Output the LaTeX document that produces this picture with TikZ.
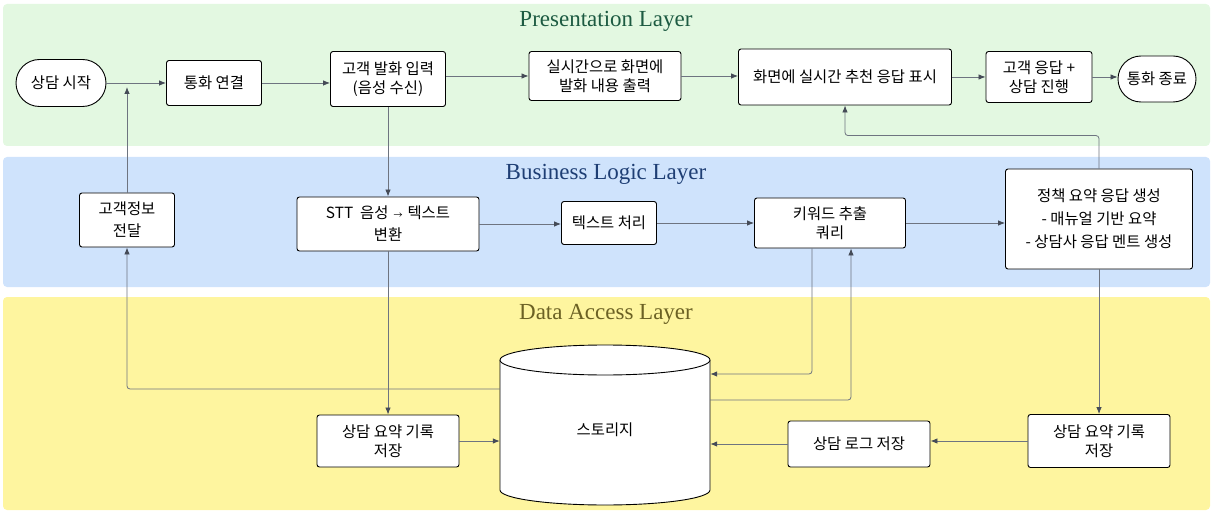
\documentclass[tikz,border=0pt]{standalone}
\usepackage{fontspec}
\setmainfont{Liberation Serif}
\newfontfamily\kr{Noto Sans CJK KR}
\usetikzlibrary{shapes.misc,arrows.meta}
\definecolor{presbg}{HTML}{E3F8E1}
\definecolor{busbg}{HTML}{CFE3FC}
\definecolor{databg}{HTML}{FEF59F}
\definecolor{prestitle}{HTML}{1D5B42}
\definecolor{bustitle}{HTML}{1E3E74}
\definecolor{datatitle}{HTML}{6B6124}
\definecolor{wire}{HTML}{6E7480}
\definecolor{tipc}{HTML}{454B57}
\tikzset{
  layer/.style={fill=#1, draw=none, rounded corners=4pt},
  ltitle/.style={font=\fontsize{23}{26}\selectfont, text=#1},
  box/.style={draw=black, line width=0.9pt, fill=white, rounded corners=2.5pt,
    align=center, inner sep=2pt, font=\kr\fontsize{15.4}{19}\selectfont},
  pill/.style={draw=black, line width=0.9pt, fill=white, rounded rectangle,
    align=center, inner sep=2pt, font=\kr\fontsize{15.4}{19}\selectfont},
  arr/.style={draw=wire, line width=0.8pt, -{Latex[length=7pt,width=5.5pt,color=tipc]}, rounded corners=3pt},
}
\begin{document}
\begin{tikzpicture}[x=1pt,y=-1pt]
\useasboundingbox (0,0) rectangle (1212,513);
% layers
\fill[layer=presbg] (3,4) rectangle (1210,146);
\fill[layer=busbg] (3,157) rectangle (1210,287);
\fill[layer=databg] (3,297) rectangle (1210,510);
\node[ltitle=prestitle] (tp) at (606,21) {Presentation Layer};
\node[ltitle=bustitle] (tb) at (606,174) {Business Logic Layer};
\node[ltitle=datatitle] (td) at (606,314) {Data Access Layer};
% presentation
\node[pill, minimum width=94pt, minimum height=47pt] (start) at (61,83) {상담 시작};
\node[box, minimum width=95pt, minimum height=45pt] (call) at (214,83) {통화 연결};
\node[box, minimum width=115pt, minimum height=55pt] (input) at (388,79) {고객 발화 입력\\(음성 수신)};
\node[box, minimum width=152pt, minimum height=49pt] (rt) at (605,76) {실시간으로 화면에\\발화 내용 출력};
\node[box, minimum width=213pt, minimum height=56pt] (disp) at (845,77) {화면에 실시간 추천 응답 표시};
\node[box, minimum width=106pt, minimum height=51pt] (reply) at (1039,77) {고객 응답 +\\상담 진행};
\node[pill, minimum width=82pt, minimum height=46pt] (end) at (1157,79) {통화 종료};
% business
\node[box, minimum width=95pt, minimum height=54pt, font=\kr\fontsize{15.4}{22}\selectfont] (info) at (127,220) {고객정보\\전달};
\node[box, minimum width=182pt, minimum height=54pt, font=\kr\fontsize{15.4}{22}\selectfont] (stt) at (388,224) {STT\ \ 음성\hspace{5pt}{\fontsize{9}{10}\selectfont →}\hspace{5pt}텍스트\\변환};
\node[box, minimum width=95pt, minimum height=43pt] (txt) at (609,223) {텍스트 처리};
\node[box, minimum width=151pt, minimum height=50pt] (kw) at (830,223) {키워드 추출\\쿼리};
\node[box, minimum width=187pt, minimum height=100pt, font=\kr\fontsize{15.4}{23}\selectfont] (pol) at (1099,219) {정책 요약 응답 생성\\- 매뉴얼 기반 요약\\- 상담사 응답 멘트 생성};
% data
\draw[line width=0.9pt, fill=white] (500,360) -- (500,490) arc[start angle=180, end angle=0, x radius=105, y radius=15] -- (710,360);
\draw[line width=0.9pt, fill=white] (605,360) ellipse [x radius=105, y radius=15];
\node[inner sep=0pt, minimum width=210pt, minimum height=150pt, font=\kr\fontsize{15.4}{19}\selectfont] (db) at (605,430) {스토리지};
\node[box, minimum width=142pt, minimum height=52pt] (suml) at (388,441) {상담 요약 기록\\저장};
\node[box, minimum width=142pt, minimum height=46pt] (log) at (859,444) {상담 로그 저장};
\node[box, minimum width=142pt, minimum height=53pt] (sumr) at (1099,441) {상담 요약 기록\\저장};
% connectors
\draw[arr] (start.east) -- (call.west);
\draw[arr] (call.east) -- (call.east -| input.west);
\draw[arr] (input.east |- rt.west) -- (rt.west);
\draw[arr] (rt.east) -- (rt.east -| disp.west);
\draw[arr] (disp.east) -- (reply.west);
\draw[arr] (reply.east) -- (reply.east -| end.west);
\draw[arr] (info.north) -- ([yshift=-4pt]info.north |- start.east);
\draw[arr] ([yshift=41pt]db.west) -| (info.south);
\draw[arr] (input.south) -- (stt.north);
\draw[arr] (stt.south) -- (suml.north);
\draw[arr] (stt.east) -- (stt.east -| txt.west);
\draw[arr] (txt.east) -- (txt.east -| kw.west);
\draw[arr] (kw.east) -- (kw.east -| pol.west);
\draw[arr] (pol.north) -- ++(0,-33) -| (disp.south);
\draw[arr] ([xshift=-18pt]kw.south) |- ([yshift=56pt]db.east);
\draw[arr] ([yshift=30pt]db.east) -| ([xshift=21pt]kw.south);
\draw[arr] (pol.south) -- (sumr.north);
\draw[arr] (sumr.west) -- (sumr.west -| log.east);
\draw[arr] (log.west) -- (log.west -| db.east);
\draw[arr] (suml.east) -- (suml.east -| db.west);
\end{tikzpicture}
\end{document}
